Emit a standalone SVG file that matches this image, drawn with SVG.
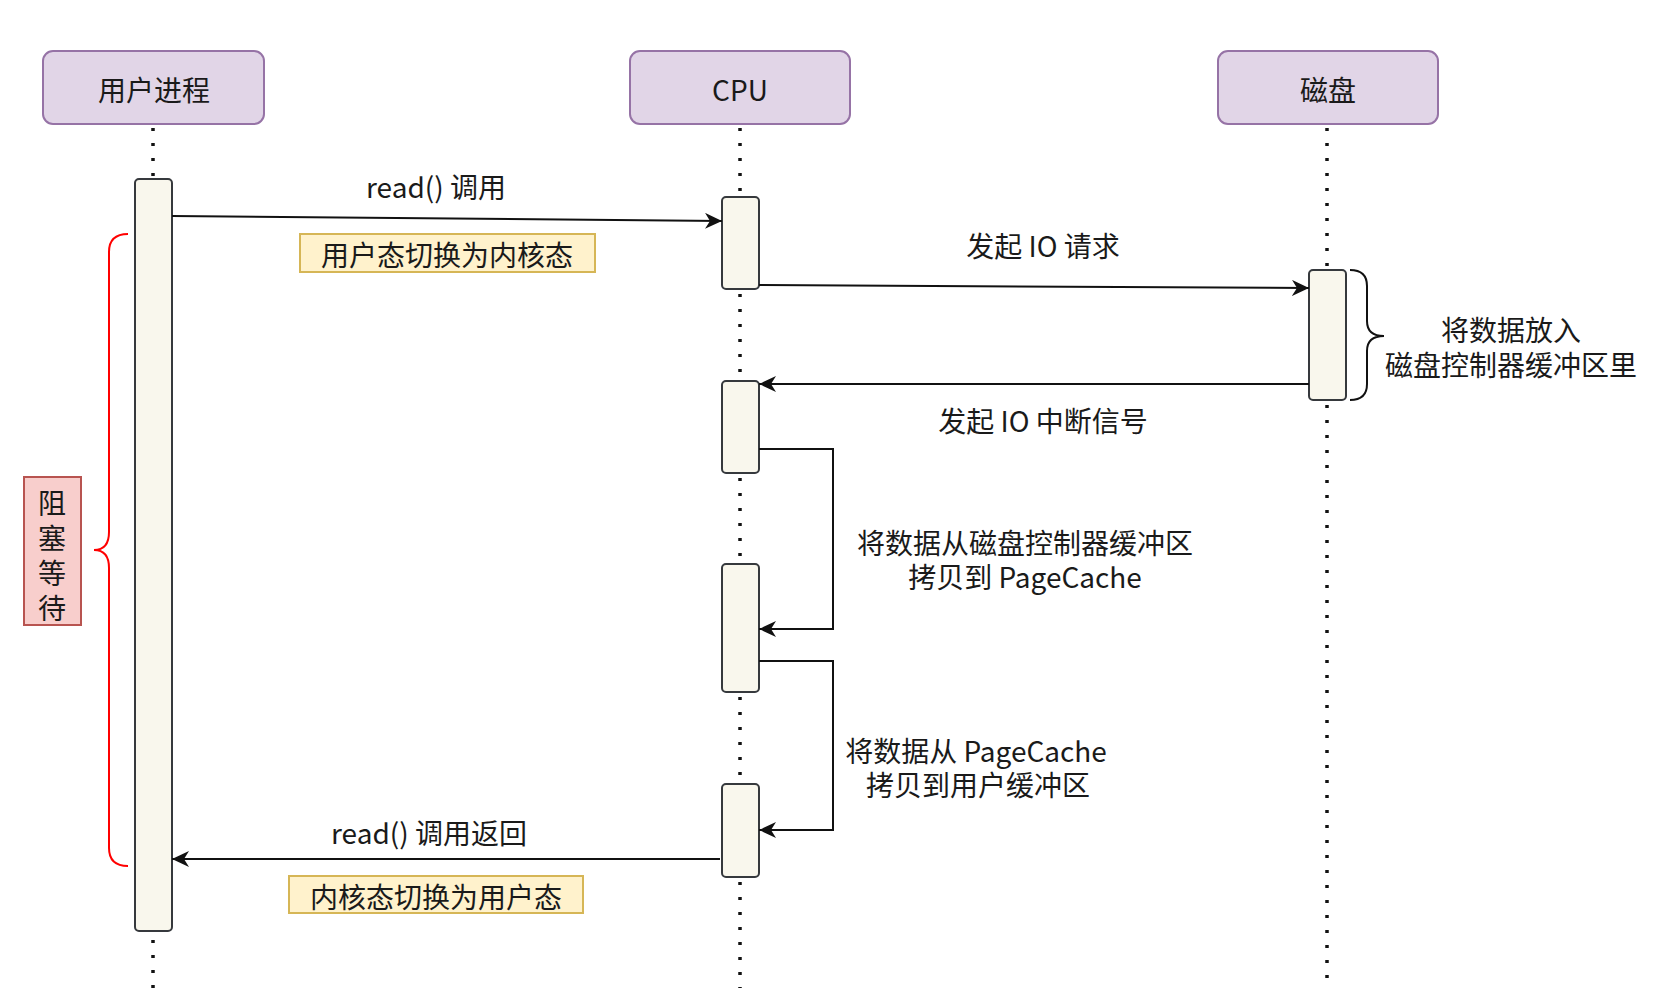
<svg xmlns="http://www.w3.org/2000/svg" width="1662" height="988" viewBox="0 0 1662 988">
<style>
text{font-family:"Noto Sans CJK SC","Noto Sans",sans-serif;fill:#1a1a1a;font-size:28px;text-anchor:middle;dominant-baseline:central}
.actor{fill:#e1d5e7;stroke:#9673a6;stroke-width:2}
.bar{fill:#f9f7ed;stroke:#36393d;stroke-width:2}
.life{stroke:#111;stroke-width:3.5;stroke-dasharray:3 12;fill:none}
.msg{stroke:#111;stroke-width:2;fill:none}
.note{fill:#fff2cc;stroke:#d6b656;stroke-width:2}
.block{fill:#f8cecc;stroke:#b85450;stroke-width:2}
</style>
<defs>
<marker id="arr" markerUnits="userSpaceOnUse" markerWidth="20" markerHeight="18" refX="17" refY="8" orient="auto">
<path d="M0,0 L17,8 L0,16 L5,8 Z" fill="#111"/>
</marker>
</defs>

<g id="lifelines">
<line class="life" x1="153" y1="128" x2="153" y2="179"/>
<line class="life" x1="153" y1="940" x2="153" y2="988"/>
<line class="life" x1="740" y1="128" x2="740" y2="197"/>
<line class="life" x1="740" y1="294" x2="740" y2="381"/>
<line class="life" x1="740" y1="478" x2="740" y2="564"/>
<line class="life" x1="740" y1="697" x2="740" y2="784"/>
<line class="life" x1="740" y1="882" x2="740" y2="988"/>
<line class="life" x1="1327" y1="128" x2="1327" y2="270"/>
<line class="life" x1="1327" y1="405" x2="1327" y2="988"/>
</g>

<g id="actor-user"><rect class="actor" x="43" y="51" width="221" height="73" rx="10"/><text x="154" y="89">用户进程</text></g>
<g id="actor-cpu"><rect class="actor" x="630" y="51" width="220" height="73" rx="10"/><text x="740" y="89">CPU</text></g>
<g id="actor-disk"><rect class="actor" x="1218" y="51" width="220" height="73" rx="10"/><text x="1328" y="89">磁盘</text></g>

<g id="bar-user"><rect class="bar" x="135" y="179" width="37" height="752" rx="4"/></g>
<g id="bar-cpu1"><rect class="bar" x="722" y="197" width="37" height="92" rx="4"/></g>
<g id="bar-cpu2"><rect class="bar" x="722" y="381" width="37" height="92" rx="4"/></g>
<g id="bar-cpu3"><rect class="bar" x="722" y="564" width="37" height="128" rx="4"/></g>
<g id="bar-cpu4"><rect class="bar" x="722" y="784" width="37" height="93" rx="4"/></g>
<g id="bar-disk"><rect class="bar" x="1309" y="270" width="37" height="130" rx="4"/></g>

<g id="connectors">
<line class="msg" x1="172" y1="216" x2="722" y2="221" marker-end="url(#arr)"/>
<line class="msg" x1="759" y1="285" x2="1309" y2="288" marker-end="url(#arr)"/>
<line class="msg" x1="1309" y1="384" x2="759" y2="384" marker-end="url(#arr)"/>
<polyline class="msg" points="759,449 833,449 833,629 759,629" marker-end="url(#arr)"/>
<polyline class="msg" points="759,661 833,661 833,830 759,830" marker-end="url(#arr)"/>
<line class="msg" x1="720" y1="859" x2="172" y2="859" marker-end="url(#arr)"/>
</g>

<g id="label-read"><text x="436" y="186">read() 调用</text></g>
<g id="note-u2k"><rect class="note" x="300" y="234" width="295" height="38"/><text x="447" y="254">用户态切换为内核态</text></g>
<g id="label-io"><text x="1043" y="245">发起 IO 请求</text></g>
<g id="label-irq"><text x="1043" y="420">发起 IO 中断信号</text></g>
<g id="label-copy1"><text x="1025" y="542">将数据从磁盘控制器缓冲区<tspan x="1025" dy="34">拷贝到 PageCache</tspan></text></g>
<g id="label-copy2"><text x="976" y="750">将数据从 PageCache<tspan x="978" dy="34">拷贝到用户缓冲区</tspan></text></g>
<g id="label-return"><text x="429" y="832">read() 调用返回</text></g>
<g id="note-k2u"><rect class="note" x="289" y="876" width="294" height="37"/><text x="436" y="896">内核态切换为用户态</text></g>

<g id="brace-disk">
<path d="M1350,270 Q1367,270 1367,286 L1367,321 Q1367,336 1384,336 Q1367,336 1367,351 L1367,384 Q1367,400 1350,400" fill="none" stroke="#111" stroke-width="2"/>
<text x="1511" y="329">将数据放入<tspan x="1511" dy="35">磁盘控制器缓冲区里</tspan></text>
</g>

<g id="brace-block">
<path d="M128,234 Q109,234 109,252 L109,532 Q109,550 94,550 Q109,550 109,568 L109,848 Q109,866 128,866" fill="none" stroke="#ff0000" stroke-width="2"/>
</g>
<g id="note-block"><rect class="block" x="24" y="477" width="57" height="148"/>
<text x="52" y="502">阻<tspan x="52" dy="35">塞</tspan><tspan x="52" dy="35">等</tspan><tspan x="52" dy="35">待</tspan></text></g>
</svg>
